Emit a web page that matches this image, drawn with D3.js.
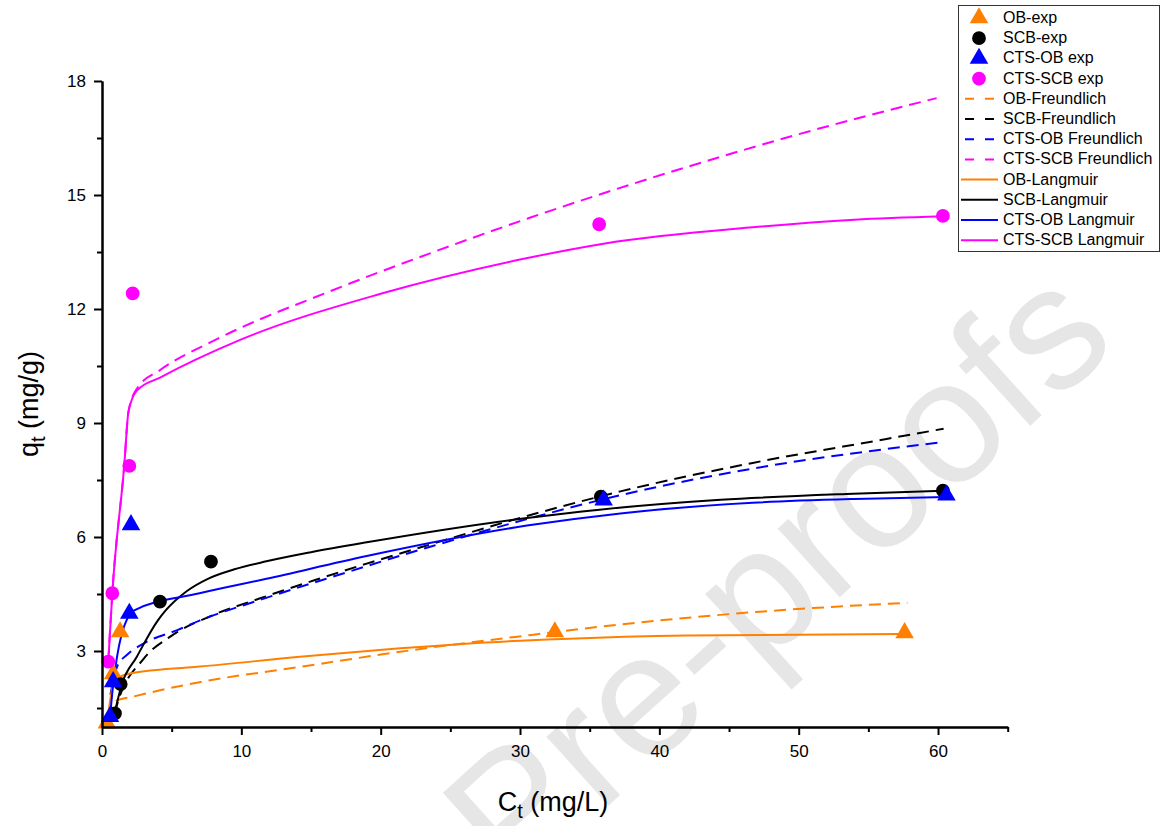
<!DOCTYPE html>
<html>
<head>
<meta charset="utf-8">
<script src="https://cdn.jsdelivr.net/npm/d3@7"></script>
<style>
  body { margin: 0; background: #fff; }
  .chart { width: 1169px; height: 826px; }
  text { font-family: "Liberation Sans", Arial, sans-serif; }
</style>
</head>
<body>
<div class="chart"></div>
<script>
// experimental points [Ct, qt]
const obExp     = [[0.35, 1.1], [0.8, 2.4], [1.3, 3.5], [32.5, 3.5], [57.6, 3.48]];
const scbExp    = [[0.93, 1.36], [1.34, 2.13], [4.16, 4.3], [7.82, 5.35], [35.8, 7.06], [60.35, 7.22]];
const ctsObExp  = [[0.57, 1.27], [0.8, 2.19], [1.96, 3.99], [2.08, 6.32], [36.0, 6.97], [60.6, 7.1]];
const ctsScbExp = [[0.45, 2.72], [0.74, 4.52], [1.96, 7.87], [2.2, 12.41], [35.68, 14.23], [60.35, 14.45]];

// fitted curves
const obFreundlich     = [[0.4, 1.25], [0.9, 1.67], [2.25, 1.8], [7.0, 2.18], [14.2, 2.58], [21.4, 2.98], [30.3, 3.4], [37.2, 3.7], [46.7, 4.02], [57.8, 4.27]];
const scbFreundlich    = [[0.9, 1.35], [1.05, 1.55], [3.0, 2.8], [4.9, 3.38], [8.0, 3.95], [11.3, 4.38], [15.4, 4.88], [19, 5.3], [23.8, 5.83], [29.5, 6.45], [37.2, 7.2], [46.7, 7.95], [56.3, 8.58], [60.4, 8.85]];
const ctsObFreundlich  = [[0.6, 1.85], [1.1, 2.6], [1.8, 2.9], [3.0, 3.2], [5.4, 3.55], [7.0, 3.8], [11.3, 4.34], [16.6, 4.96], [23.8, 5.77], [30.5, 6.47], [37.2, 7.1], [46.7, 7.8], [60.4, 8.5]];
const ctsScbFreundlich = [[0.45, 2.72], [0.74, 4.52], [1.6, 7.9], [1.9, 9.3], [2.5, 9.9], [4.2, 10.4], [8.1, 11.18], [16.6, 12.5], [23.8, 13.5], [30.7, 14.4], [42, 15.74], [50, 16.6], [59.9, 17.55]];

const obLangmuir     = [[0.35, 1.05], [0.8, 2.1], [1.2, 2.3], [2.0, 2.41], [4.9, 2.53], [7.0, 2.59], [14.2, 2.85], [21.4, 3.07], [30, 3.27], [32.5, 3.31], [42, 3.41], [57.6, 3.45]];
const scbLangmuir    = [[0.93, 1.4], [1.4, 2.1], [2.5, 2.85], [4.0, 3.8], [4.6, 4.08], [6.1, 4.58], [7.6, 4.9], [9.5, 5.15], [11.8, 5.36], [15, 5.6], [19, 5.86], [30.5, 6.5], [35.7, 6.72], [44.4, 6.98], [53.9, 7.14], [60.4, 7.22]];
const ctsObLangmuir  = [[0.57, 1.25], [0.8, 2.1], [1.96, 3.95], [2.2, 4.05], [7.0, 4.52], [11.8, 4.9], [19, 5.5], [30.5, 6.3], [37.2, 6.62], [46.7, 6.9], [54, 7.0], [60.6, 7.05]];
const ctsScbLangmuir = [[0.45, 2.72], [0.74, 4.52], [1.6, 7.9], [1.9, 9.3], [2.5, 9.85], [4.2, 10.2], [10, 11.2], [20, 12.4], [30, 13.3], [36, 13.72], [46.7, 14.15], [54, 14.35], [60.35, 14.44]];

const xMajor = [0, 10, 20, 30, 40, 50, 60];
const xMinor = [5, 15, 25, 35, 45, 55, 65];
const yMajor = [3, 6, 9, 12, 15, 18];
const yMinor = [1.5, 4.5, 7.5, 10.5, 13.5, 16.5];

const legendNames = ['OB-exp', 'SCB-exp', 'CTS-OB exp', 'CTS-SCB exp',
  'OB-Freundlich', 'SCB-Freundlich', 'CTS-OB Freundlich', 'CTS-SCB Freundlich',
  'OB-Langmuir', 'SCB-Langmuir', 'CTS-OB Langmuir', 'CTS-SCB Langmuir'];

(function() {
  'use strict';

  const ORANGE = '#ff8000', BLACK = '#000000', BLUE = '#0000ff', MAGENTA = '#ff00ff';

  let width  = 1169,
      height = 826,

      svg = d3.select('.chart')
        .append('svg')
        .attr('width', width)
        .attr('height', height),

      x = d3.scaleLinear().domain([0, 65]).range([102, 1007.7]),
      y = d3.scaleLinear().domain([1, 18]).range([727, 81]),

      line = d3.line()
        .x(d => x(d[0]))
        .y(d => y(d[1]))
        .curve(d3.curveMonotoneX);

  // watermark behind everything
  svg.append('text')
    .attr('transform', 'translate(1120,345) rotate(-42)')
    .attr('text-anchor', 'end')
    .style('font-size', '175px')
    .style('fill', '#e6e6e6')
    .text('Journal Pre-proofs');

  // fitted lines
  let fits = [
    { data: obFreundlich,     color: ORANGE,  dash: '12,7' },
    { data: scbFreundlich,    color: BLACK,   dash: '12,7' },
    { data: ctsObFreundlich,  color: BLUE,    dash: '12,7' },
    { data: ctsScbFreundlich, color: MAGENTA, dash: '12,7' },
    { data: obLangmuir,       color: ORANGE,  dash: null },
    { data: scbLangmuir,      color: BLACK,   dash: null },
    { data: ctsObLangmuir,    color: BLUE,    dash: null },
    { data: ctsScbLangmuir,   color: MAGENTA, dash: null }
  ];

  svg.append('g')
    .selectAll('path')
    .data(fits)
    .enter()
    .append('path')
      .attr('d', d => line(d.data))
      .attr('fill', 'none')
      .attr('stroke', d => d.color)
      .attr('stroke-width', 2)
      .attr('stroke-dasharray', d => d.dash);

  // experimental points
  let tri = d3.symbol().type(d3.symbolTriangle).size(150),
      dot = d3.symbol().type(d3.symbolCircle).size(150),
      points = [
        { data: obExp,     color: ORANGE,  sym: tri },
        { data: scbExp,    color: BLACK,   sym: dot },
        { data: ctsObExp,  color: BLUE,    sym: tri },
        { data: ctsScbExp, color: MAGENTA, sym: dot }
      ];

  points.forEach(s => {
    svg.append('g')
      .selectAll('path')
      .data(s.data)
      .enter()
      .append('path')
        .attr('d', s.sym())
        .attr('transform', d => `translate(${x(d[0])},${y(d[1])})`)
        .attr('fill', s.color);
  });

  // axes
  let xAxis = svg.append('g')
        .attr('transform', `translate(0,${y(1)})`)
        .call(d3.axisBottom(x).tickValues(xMajor).tickSize(8).tickPadding(10).tickSizeOuter(0)),
      xMin = svg.append('g')
        .attr('transform', `translate(0,${y(1)})`)
        .call(d3.axisBottom(x).tickValues(xMinor).tickSize(5).tickFormat('').tickSizeOuter(0)),
      yAxis = svg.append('g')
        .attr('transform', `translate(${x(0)},0)`)
        .call(d3.axisLeft(y).tickValues(yMajor).tickSize(8).tickPadding(8).tickSizeOuter(0)),
      yMin = svg.append('g')
        .attr('transform', `translate(${x(0)},0)`)
        .call(d3.axisLeft(y).tickValues(yMinor).tickSize(5).tickFormat('').tickSizeOuter(0));

  [xAxis, xMin, yAxis, yMin].forEach(a => {
    a.selectAll('.domain').attr('stroke-width', 2);
    a.selectAll('.tick line').attr('stroke-width', 2);
    a.selectAll('text')
      .style('font-family', '"Liberation Sans", Arial, sans-serif')
      .style('font-size', '17px')
      .attr('fill', '#000');
  });

  // axis titles
  let xt = svg.append('text')
    .attr('x', 553)
    .attr('y', 811)
    .attr('text-anchor', 'middle')
    .style('font-size', '27px');
  xt.append('tspan').text('C');
  xt.append('tspan').attr('dy', 7).style('font-size', '20px').text('t');
  xt.append('tspan').attr('dy', -7).text(' (mg/L)');

  let yt = svg.append('text')
    .attr('transform', 'translate(38,404) rotate(-90)')
    .attr('text-anchor', 'middle')
    .style('font-size', '27px');
  yt.append('tspan').text('q');
  yt.append('tspan').attr('dy', 7).style('font-size', '20px').text('t');
  yt.append('tspan').attr('dy', -7).text(' (mg/g)');

  // legend
  let legend = svg.append('g');
  legend.append('rect')
    .attr('x', 958.5).attr('y', 5.5)
    .attr('width', 201).attr('height', 246)
    .attr('fill', '#fff')
    .attr('stroke', '#333')
    .attr('stroke-width', 1);

  let legendItems = [
    { type: 'sym', sym: tri, color: ORANGE },
    { type: 'sym', sym: dot, color: BLACK },
    { type: 'sym', sym: tri, color: BLUE },
    { type: 'sym', sym: dot, color: MAGENTA },
    { type: 'line', color: ORANGE,  dash: '12,7' },
    { type: 'line', color: BLACK,   dash: '12,7' },
    { type: 'line', color: BLUE,    dash: '12,7' },
    { type: 'line', color: MAGENTA, dash: '12,7' },
    { type: 'line', color: ORANGE,  dash: null },
    { type: 'line', color: BLACK,   dash: null },
    { type: 'line', color: BLUE,    dash: null },
    { type: 'line', color: MAGENTA, dash: null }
  ];

  legendItems.forEach((it, i) => {
    let cy = 18 + i * 20.2;
    if (it.type === 'sym') {
      legend.append('path')
        .attr('d', it.sym())
        .attr('transform', `translate(979,${cy})`)
        .attr('fill', it.color);
    } else {
      legend.append('line')
        .attr('x1', 961).attr('x2', 998)
        .attr('y1', cy).attr('y2', cy)
        .attr('stroke', it.color)
        .attr('stroke-width', 2)
        .attr('stroke-dasharray', it.dash ? '9,11' : null)
        .attr('stroke-dashoffset', it.dash ? -4 : null);
    }
    legend.append('text')
      .attr('x', 1003)
      .attr('y', cy + 5)
      .style('font-size', '16px')
      .text(legendNames[i]);
  });

})();
</script>
</body>
</html>
